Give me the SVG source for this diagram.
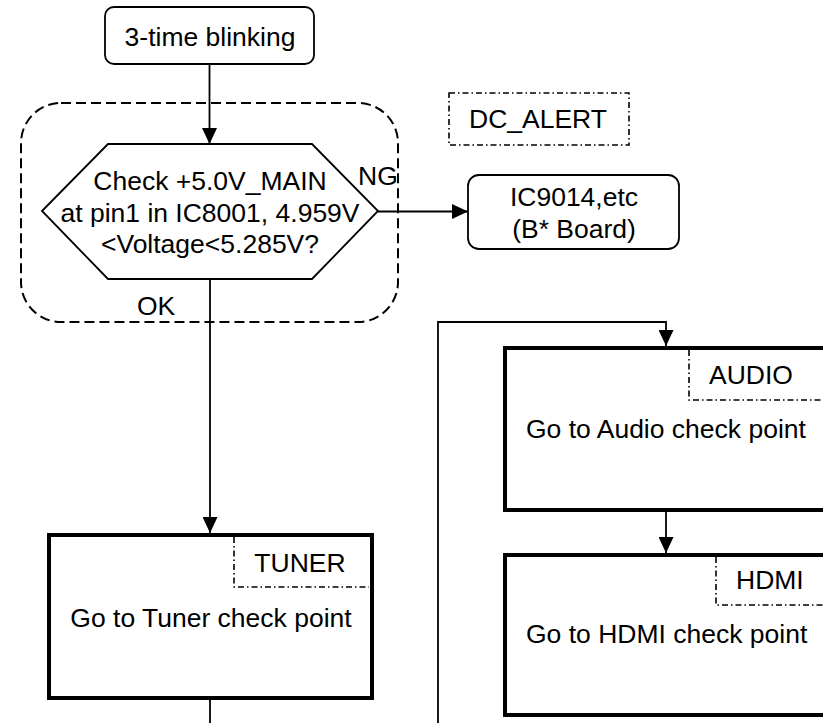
<svg xmlns="http://www.w3.org/2000/svg" width="823" height="723" viewBox="0 0 823 723">
<style>
text{font-family:"Liberation Sans",Arial,sans-serif;font-size:26.5px;fill:#000}
.c{text-anchor:middle}
.thin{fill:#fff;stroke:#000;stroke-width:1.8}
.thick{fill:#fff;stroke:#000;stroke-width:4}
.dd{fill:none;stroke:#000;stroke-width:1.6;stroke-dasharray:6 3 1.5 3}
.ln{fill:none;stroke:#000;stroke-width:1.8}
</style>
<defs>
<marker id="ah" markerUnits="userSpaceOnUse" markerWidth="16" markerHeight="15" refX="16" refY="7.5" orient="auto">
<path d="M0,0 L16,7.5 L0,15 z" fill="#000"/>
</marker>
</defs>
<rect id="dc-group" x="21" y="103" width="377" height="219" rx="40" fill="none" stroke="#000" stroke-width="2" stroke-dasharray="10 5"/>
<g id="dc-alert"><rect class="dd" x="449" y="93" width="180" height="52"/><text class="c" x="538" y="128">DC_ALERT</text></g>
<g id="start"><rect class="thin" x="105" y="7" width="209" height="57" rx="9"/><text class="c" x="210" y="46">3-time blinking</text></g>
<g id="check"><polygon class="thin" points="42,211 108,144 312,144 378,211 312,279 108,279"/>
<text class="c" x="210" y="190">Check +5.0V_MAIN</text>
<text class="c" x="210" y="222">at pin1 in IC8001, 4.959V</text>
<text class="c" x="210" y="253">&lt;Voltage&lt;5.285V?</text></g>
<g id="ic"><rect class="thin" x="468" y="175" width="211" height="74" rx="11"/>
<text class="c" x="574" y="206">IC9014,etc</text><text class="c" x="574" y="238">(B* Board)</text></g>
<g id="tuner"><rect class="thick" x="49" y="535" width="323" height="163"/>
<path class="dd" d="M234,537 V587 H369"/>
<text class="c" x="300" y="572">TUNER</text>
<text class="c" x="211" y="627">Go to Tuner check point</text></g>
<g id="audio"><rect class="thick" x="505" y="348" width="323" height="162"/>
<path class="dd" d="M689,350 V400 H826"/>
<text x="709" y="384">AUDIO</text>
<text x="526" y="438">Go to Audio check point</text></g>
<g id="hdmi"><rect class="thick" x="505" y="555" width="323" height="160"/>
<path class="dd" d="M716,557 V605 H826"/>
<text x="736" y="589">HDMI</text>
<text x="526" y="643">Go to HDMI check point</text></g>
<g id="connectors">
<line class="ln" x1="209.5" y1="64" x2="209.5" y2="144" marker-end="url(#ah)"/>
<line class="ln" x1="378" y1="211.5" x2="468" y2="211.5" marker-end="url(#ah)"/>
<line class="ln" x1="210" y1="279" x2="210" y2="533" marker-end="url(#ah)"/>
<line class="ln" x1="210" y1="698" x2="210" y2="723"/>
<polyline class="ln" points="438,723 438,322 666,322 666,346" marker-end="url(#ah)"/>
<line class="ln" x1="666" y1="510" x2="666" y2="553" marker-end="url(#ah)"/>
<text x="358" y="185">NG</text>
<text x="137" y="315">OK</text>
</g>
</svg>
